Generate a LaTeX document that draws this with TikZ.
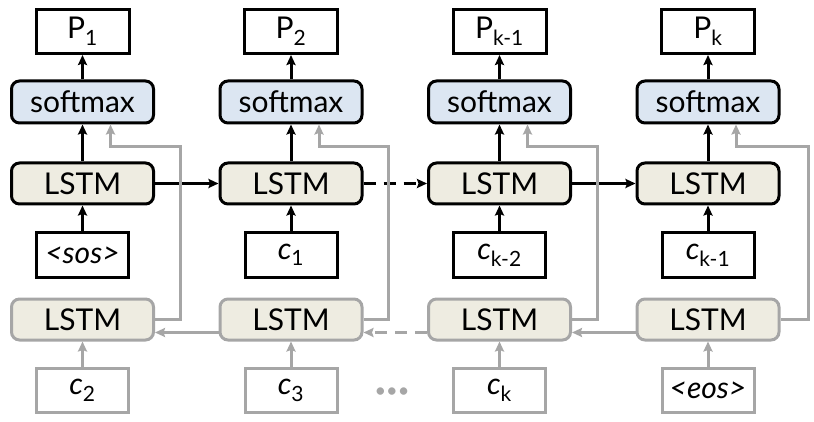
\documentclass[tikz,border=0pt]{standalone}
\usepackage{fontspec}
\setmainfont{Lato}
\usepackage{tikz}
\usetikzlibrary{arrows.meta}

\definecolor{smblue}{HTML}{DCE6F2}
\definecolor{lstmtan}{HTML}{EEECE1}
\definecolor{linegray}{HTML}{A6A6A6}

\begin{document}
\begin{tikzpicture}[
                x=1pt, y=1pt,
                node distance=208.5pt,        % spacing of the columns
                every node/.style={
                    font=\fontsize{30}{36}\selectfont,
                    inner sep=0pt
                },
                >={Stealth[length=10pt, width=9pt, inset=1.5pt]},
                every path/.style={line width=3pt},
                outbox/.style={rectangle, draw, minimum width=93pt, minimum height=44pt},
                smbox/.style={rectangle, draw, rounded corners=8pt, fill=smblue,
                    minimum width=142pt, minimum height=42pt},
                lstmbox/.style={rectangle, draw, rounded corners=8pt, fill=lstmtan,
                    minimum width=142pt, minimum height=41pt},
                inbox/.style={rectangle, draw, minimum width=92pt, minimum height=44pt},
                grey/.style={draw=linegray},
                arrow/.style={->},
                grayarrow/.style={->, draw=linegray}
            ]
                \useasboundingbox (0,0) rectangle (814,-422);

                % column 1
                \node[outbox] (p1) at (82.5,-31.5) {P\textsubscript{1}};
                \node[smbox] (s1) [below of=p1, node distance=70.5pt] {softmax};
                \node[lstmbox] (l1) [below of=s1, node distance=81.5pt] {LSTM};
                \node[inbox] (i1) [below of=l1, node distance=71.5pt] {\textit{<sos>}};
                \node[lstmbox, grey] (b1) [below of=i1, node distance=64.5pt] {LSTM};
                \node[inbox, grey] (n1) [below of=b1, node distance=71pt] {\textit{c}\textsubscript{2}};

                % column 2
                \node[outbox] (p2) [right of=p1] {P\textsubscript{2}};
                \node[smbox] (s2) [right of=s1] {softmax};
                \node[lstmbox] (l2) [right of=l1] {LSTM};
                \node[inbox] (i2) [right of=i1] {\textit{c}\textsubscript{1}};
                \node[lstmbox, grey] (b2) [right of=b1] {LSTM};
                \node[inbox, grey] (n2) [right of=n1] {\textit{c}\textsubscript{3}};

                % column 3
                \node[outbox] (p3) [right of=p2] {P\textsubscript{k-1}};
                \node[smbox] (s3) [right of=s2] {softmax};
                \node[lstmbox] (l3) [right of=l2] {LSTM};
                \node[inbox] (i3) [right of=i2] {\textit{c}\textsubscript{k-2}};
                \node[lstmbox, grey] (b3) [right of=b2] {LSTM};
                \node[inbox, grey] (n3) [right of=n2] {\textit{c}\textsubscript{k}};

                % column 4
                \node[outbox] (p4) [right of=p3] {P\textsubscript{k}};
                \node[smbox] (s4) [right of=s3] {softmax};
                \node[lstmbox] (l4) [right of=l3] {LSTM};
                \node[inbox] (i4) [right of=i3] {\textit{c}\textsubscript{k-1}};
                \node[lstmbox, grey] (b4) [right of=b3] {LSTM};
                \node[inbox, grey] (n4) [right of=n3] {\textit{<eos>}};

                \node[text=linegray, font=\fontsize{20}{24}\selectfont] (dots) at (392,-393) {•••};

                % forward chain
                \draw[arrow] (s1) -- (p1);
                \draw[arrow] (s2) -- (p2);
                \draw[arrow] (s3) -- (p3);
                \draw[arrow] (s4) -- (p4);
                \draw[arrow] (l1) -- (s1);
                \draw[arrow] (l2) -- (s2);
                \draw[arrow] (l3) -- (s3);
                \draw[arrow] (l4) -- (s4);
                \draw[arrow] (i1) -- (l1);
                \draw[arrow] (i2) -- (l2);
                \draw[arrow] (i3) -- (l3);
                \draw[arrow] (i4) -- (l4);
                \draw[arrow] (l1) -- (l2);
                \draw[arrow, dash pattern=on 12pt off 8pt] (l2) -- (l3);
                \draw[arrow] (l3) -- (l4);

                % backward chain
                \draw[grayarrow] (n1) -- (b1);
                \draw[grayarrow] (n2) -- (b2);
                \draw[grayarrow] (n3) -- (b3);
                \draw[grayarrow] (n4) -- (b4);
                \draw[grayarrow] ([yshift=-13pt]b2.west) -- ([yshift=-13pt]b1.east);
                \draw[grayarrow, dash pattern=on 12pt off 8pt] ([yshift=-13pt]b3.west) -- ([yshift=-13pt]b2.east);
                \draw[grayarrow] ([yshift=-13pt]b4.west) -- ([yshift=-13pt]b3.east);

                % backward lstm to softmax
                \draw[grayarrow] (b1.east) -| ([xshift=25pt, yshift=-22pt]s1.south east) -| ([xshift=28pt]s1.south);
                \draw[grayarrow] (b2.east) -| ([xshift=25pt, yshift=-22pt]s2.south east) -| ([xshift=28pt]s2.south);
                \draw[grayarrow] (b3.east) -| ([xshift=25pt, yshift=-22pt]s3.south east) -| ([xshift=28pt]s3.south);
                \draw[grayarrow] (b4.east) -| ([xshift=28pt, yshift=-22pt]s4.south east) -| ([xshift=28pt]s4.south);
\end{tikzpicture}
\end{document}
